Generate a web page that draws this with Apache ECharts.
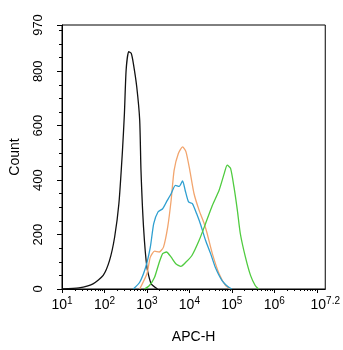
<!DOCTYPE html>
<html>
<head>
<meta charset="utf-8">
<script src="https://cdn.jsdelivr.net/npm/echarts@6/dist/echarts.min.js"></script>
<style>
  html, body { margin: 0; padding: 0; background: #fff; }
  #main { width: 343px; height: 350px; }
</style>
</head>
<body>
<div id="main"></div>
<script>
// x values are log10 of APC-H intensity
const blackX = [1.0, 1.4, 1.73, 1.97, 2.12, 2.24, 2.34, 2.42, 2.47, 2.51, 2.57, 2.63, 2.68, 2.76, 2.83, 2.86, 2.92, 3.0, 3.1, 3.25];
const blackY = [0, 4, 19, 50, 105, 191, 314, 498, 645, 804, 872, 866, 829, 743, 620, 436, 228, 80, 19, 0];

const orangeX = [2.83, 3.0, 3.08, 3.18, 3.29, 3.39, 3.49, 3.57, 3.64, 3.74, 3.84, 3.92, 4.01, 4.11, 4.23, 4.35, 4.42, 4.54, 4.7, 4.85, 4.97];
const orangeY = [0, 56, 117, 139, 136, 154, 228, 326, 436, 498, 522, 504, 436, 350, 289, 240, 203, 130, 56, 13, 0];

const blueX = [2.68, 2.83, 2.97, 3.08, 3.16, 3.26, 3.37, 3.46, 3.57, 3.67, 3.76, 3.84, 3.9, 3.98, 4.07, 4.17, 4.27, 4.38, 4.5, 4.61, 4.77, 4.92, 5.0];
const blueY = [0, 25, 80, 154, 240, 283, 295, 320, 350, 381, 377, 397, 363, 320, 314, 277, 234, 179, 130, 80, 31, 7, 0];

const greenX = [2.94, 3.06, 3.18, 3.28, 3.37, 3.46, 3.57, 3.68, 3.8, 3.92, 4.06, 4.23, 4.38, 4.54, 4.7, 4.82, 4.89, 4.97, 5.05, 5.13, 5.2, 5.32, 5.44, 5.55, 5.63];
const greenY = [0, 13, 43, 93, 130, 136, 117, 93, 83, 99, 123, 179, 240, 307, 363, 424, 455, 443, 375, 289, 203, 117, 50, 13, 0];

const xLabelVals = [1, 2, 3, 4, 5, 6, 7.2];
const yLabelVals = [0, 200, 400, 600, 800, 970];

// minor log ticks (2..9 x 10^n)
const minorTicks = [];
for (let n = 1; n <= 7; n++) {
  for (let k = 2; k <= 9; k++) {
    const v = n + Math.log10(k);
    if (v < 7.2) minorTicks.push(v);
  }
}

function zip(xs, ys) { return xs.map((x, i) => [x, ys[i]]); }

function line(name, xs, ys, color) {
  return {
    name: name, type: 'line', data: zip(xs, ys),
    showSymbol: false, smooth: 0.2,
    lineStyle: { color: color, width: 1.3 },
    itemStyle: { color: color },
    animation: false
  };
}

const myChart = echarts.init(document.getElementById('main'));
myChart.setOption({
  grid: { left: 62, right: 16, top: 25, bottom: 61, show: true, borderColor: '#000', borderWidth: 1 },
  xAxis: [{
    type: 'value', min: 1, max: 7.2, interval: 1,
    name: 'APC-H', nameLocation: 'middle', nameGap: 41,
    nameTextStyle: { fontSize: 14, color: '#000', fontFamily: 'Liberation Sans' },
    axisLine: { lineStyle: { color: '#000' } },
    axisTick: { length: 4, lineStyle: { color: '#000' }, customValues: [1, 2, 3, 4, 5, 6, 7] },
    splitLine: { show: false },
    axisLabel: {
      customValues: xLabelVals, margin: 7,
      formatter: v => '{b|10}{s|' + v + '}',
      rich: {
        b: { fontSize: 14, color: '#000', fontFamily: 'Liberation Sans' },
        s: { fontSize: 10, color: '#000', fontFamily: 'Liberation Sans', padding: [0, 0, 9, 0] }
      }
    }
  }, {
    type: 'value', min: 1, max: 7.2, position: 'bottom',
    axisLine: { show: false },
    axisLabel: { show: false },
    splitLine: { show: false },
    axisTick: { length: 2, lineStyle: { color: '#000' }, customValues: minorTicks }
  }],
  yAxis: {
    type: 'value', min: 0, max: 970, interval: 200,
    name: 'Count', nameLocation: 'middle', nameGap: 40,
    nameTextStyle: { fontSize: 14, color: '#000', fontFamily: 'Liberation Sans' },
    axisLine: { show: true, lineStyle: { color: '#000' } },
    axisTick: { show: true, length: 5, lineStyle: { color: '#000' } },
    minorTick: { show: true, splitNumber: 4, length: 3, lineStyle: { color: '#000' } },
    splitLine: { show: false },
    axisLabel: {
      customValues: yLabelVals, rotate: 90, margin: 17,
      fontSize: 13, color: '#000', fontFamily: 'Liberation Sans'
    }
  },
  series: [
    line('black', blackX, blackY, '#111111'),
    line('orange', orangeX, orangeY, '#F2A56E'),
    line('blue', blueX, blueY, '#2E9FD0'),
    line('green', greenX, greenY, '#4FCB3F')
  ]
});
</script>
</body>
</html>
